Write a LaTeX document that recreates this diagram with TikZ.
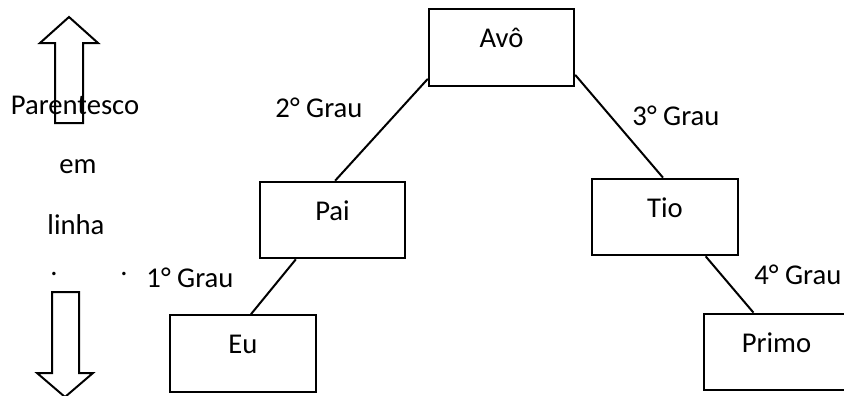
\documentclass[tikz,border=0pt]{standalone}
\usepackage{fontspec}
\setmainfont{Carlito}
\tikzset{
	caixa/.style = {rectangle, draw=black, line width=1.5pt, inner sep=0pt,
		minimum width=109pt, minimum height=57.5pt,
		text height=12pt, text depth=12pt},% caixa de parente
	grau/.style = {anchor=base, inner sep=0pt},% rotulo de grau
	ligacao/.style = {draw=black, line width=1.5pt},% ligacao entre parentes
	seta/.style = {draw=black, line width=1.5pt, line join=miter}% seta lateral
}

\begin{document}
\begin{tikzpicture}[x=0.75pt, y=-0.75pt, font=\fontsize{21.5}{26}\selectfont]
			\useasboundingbox (0,0) rectangle (844,396);
			\clip (0,0) rectangle (844,396);
			% setas laterais
			\draw[seta] (55,123) -- (55,43) -- (40,43) -- (69,17) -- (98,43)
				-- (83,43) -- (83,123) -- cycle;
			\draw[seta] (52,292) -- (79,292) -- (79,373) -- (93,373) -- (65,397)
				-- (37,373) -- (52,373) -- cycle;
			\node[grau] (parentesco) at (75,114) {Parentesco};
			\node[grau] (em) at (78,173) {em};
			\node[grau] (linha) at (76,234) {linha};
			\node[grau] (pontoa) at (54,275) {.};
			\node[grau] (pontob) at (124,275) {.};
			% parentes
			\node[caixa] (avo) at (501.5,47.5) {Avô};
			\node[caixa] (pai) at (332.5,220) {Pai};
			\node[caixa] (tio) at (665,217) {Tio};
			\node[caixa] (eu) at (243,353.5) {Eu};
			\node[caixa] (primo) at (776.5,352) {Primo};
			% ligacoes
			\draw[ligacao] ([yshift=6pt]avo.south west) -- ([xshift=2pt]pai.north);
			\draw[ligacao] ([yshift=9pt]avo.south east) -- ([xshift=-1.5pt]tio.north);
			\draw[ligacao] ([xshift=27.75pt]pai.south west) -- ([xshift=6pt]eu.north);
			\draw[ligacao] ([xshift=-24.75pt]tio.south east) -- ([xshift=38pt]primo.north west);
			% graus
			\node[grau] (grau2) at (319,117) {2° Grau};
			\node[grau] (grau1) at (190,287) {1° Grau};
			\node[grau] (grau3) at (676,125) {3° Grau};
			\node[grau, anchor=base west] (grau4) at (754,284) {4° Grau};
\end{tikzpicture}
\end{document}
